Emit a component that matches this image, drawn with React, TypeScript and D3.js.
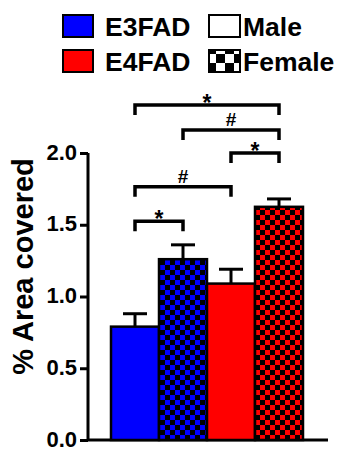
import { useEffect, useRef } from "react";
import * as d3 from "d3";

// groups, left to right
const groups = ["E3FAD Male", "E3FAD Female", "E4FAD Male", "E4FAD Female"];
const genotype = ["E3FAD", "E3FAD", "E4FAD", "E4FAD"];
const sex = ["Male", "Female", "Male", "Female"];
const means = [0.79, 1.26, 1.09, 1.625];
const sems = [0.09, 0.1, 0.1, 0.055];

const yTicks = [0, 0.5, 1.0, 1.5, 2.0];

// significance brackets: from group, to group, level (in y units), mark
const compFrom = [0, 1, 2, 0, 0];
const compTo = [3, 3, 3, 2, 1];
const compLevel = [2.335, 2.16, 2.0, 1.765, 1.525];
const compMark = ["*", "#", "*", "#", "*"];

const legendGeno = ["E3FAD", "E4FAD"];
const legendSex = ["Male", "Female"];

const colors: Record<string, string> = { E3FAD: "#0000ff", E4FAD: "#ff0000" };

const App = () => {
  const ref = useRef<SVGSVGElement>(null);

  useEffect(() => {
    const width = 342;
    const height = 449;
    const svg = d3.select(ref.current);
    svg.selectAll("*").remove();
    svg.attr("width", width).attr("height", height);

    const font = "'Liberation Sans', Arial, sans-serif";

    const defs = svg.append("defs");
    const checker = (id: string, base: string, size: number) => {
      const p = defs.append("pattern")
        .attr("id", id)
        .attr("patternUnits", "userSpaceOnUse")
        .attr("width", size * 2)
        .attr("height", size * 2);
      p.append("rect").attr("width", size * 2).attr("height", size * 2).attr("fill", base);
      p.append("rect").attr("width", size).attr("height", size).attr("fill", "#000");
      p.append("rect").attr("x", size).attr("y", size).attr("width", size).attr("height", size).attr("fill", "#000");
    };
    checker("chk-E3FAD", colors.E3FAD, 5);
    checker("chk-E4FAD", colors.E4FAD, 5);
    checker("chk-legend", "#fff", 9);

    const x = d3.scaleBand().domain(groups).range([111, 303]).padding(0);
    const y = d3.scaleLinear().domain([0, 2]).range([440, 153]);

    // axes
    const yAxis = svg.append("g")
      .attr("transform", "translate(88,0)")
      .call(d3.axisLeft(y).tickValues(yTicks).tickFormat(d3.format(".1f")).tickSize(8).tickPadding(3));
    yAxis.select(".domain").attr("stroke", "#000").attr("stroke-width", 3).attr("d", `M0,${y(2)}V${y(0)}`);
    yAxis.selectAll(".tick line").attr("stroke", "#000").attr("stroke-width", 3);
    yAxis.selectAll(".tick text")
      .attr("font-family", font)
      .attr("font-weight", "bold")
      .attr("font-size", 22)
      .attr("dy", "0.28em")
      .attr("fill", "#000");

    svg.append("line")
      .attr("x1", 88).attr("x2", 328)
      .attr("y1", y(0)).attr("y2", y(0))
      .attr("stroke", "#000").attr("stroke-width", 3);

    svg.append("text")
      .attr("transform", `translate(33,${(148 + 385) / 2}) rotate(-90)`)
      .attr("text-anchor", "middle")
      .attr("font-family", font)
      .attr("font-weight", "bold")
      .attr("font-size", 29)
      .text("% Area covered");

    // error bars
    const eb = svg.append("g").attr("stroke", "#000").attr("stroke-width", 3);
    groups.forEach((g, i) => {
      const cx = x(g)! + x.bandwidth() / 2;
      eb.append("line").attr("x1", cx).attr("x2", cx).attr("y1", y(means[i])).attr("y2", y(means[i] + sems[i]));
      eb.append("line").attr("x1", cx - 12).attr("x2", cx + 12).attr("y1", y(means[i] + sems[i])).attr("y2", y(means[i] + sems[i]));
    });

    // bars
    svg.append("g")
      .selectAll("rect")
      .data(groups)
      .join("rect")
      .attr("x", (d) => x(d)!)
      .attr("y", (d, i) => y(means[i]))
      .attr("width", x.bandwidth())
      .attr("height", (d, i) => y(0) - y(means[i]))
      .attr("fill", (d, i) => (sex[i] === "Female" ? `url(#chk-${genotype[i]})` : colors[genotype[i]]))
      .attr("stroke", "#000")
      .attr("stroke-width", 2.5);

    // brackets
    const br = svg.append("g");
    compFrom.forEach((f, k) => {
      const x1 = x(groups[f])! + x.bandwidth() / 2;
      const x2 = x(groups[compTo[k]])! + x.bandwidth() / 2;
      const ly = y(compLevel[k]);
      br.append("path")
        .attr("d", `M${x1},${ly + 10}V${ly}H${x2}V${ly + 10}`)
        .attr("fill", "none")
        .attr("stroke", "#000")
        .attr("stroke-width", 3.5);
      const star = compMark[k] === "*";
      br.append("text")
        .attr("x", (x1 + x2) / 2)
        .attr("y", star ? ly + 6 : ly - 4)
        .attr("text-anchor", "middle")
        .attr("font-family", font)
        .attr("font-weight", "bold")
        .attr("font-size", star ? 23 : 19)
        .text(compMark[k]);
    });

    // legend
    const lg = svg.append("g").attr("font-family", font).attr("font-weight", "bold").attr("font-size", 26.5);
    legendGeno.forEach((g, i) => {
      const top = 15 + i * 35;
      lg.append("rect").attr("x", 63).attr("y", top).attr("width", 30).attr("height", 22)
        .attr("fill", colors[g]).attr("stroke", "#000").attr("stroke-width", 2);
      lg.append("text").attr("x", 105).attr("y", top + 21).text(g);
    });
    legendSex.forEach((s, i) => {
      const top = 15 + i * 35;
      lg.append("rect").attr("x", 209).attr("y", top).attr("width", 31).attr("height", 22)
        .attr("fill", s === "Female" ? "url(#chk-legend)" : "#fff").attr("stroke", "#000").attr("stroke-width", 2);
      lg.append("text").attr("x", 243).attr("y", top + 21).text(s);
    });
  }, []);

  return <svg ref={ref} style={{ position: "absolute", left: 0, top: 0 }}></svg>;
};

export default App;
